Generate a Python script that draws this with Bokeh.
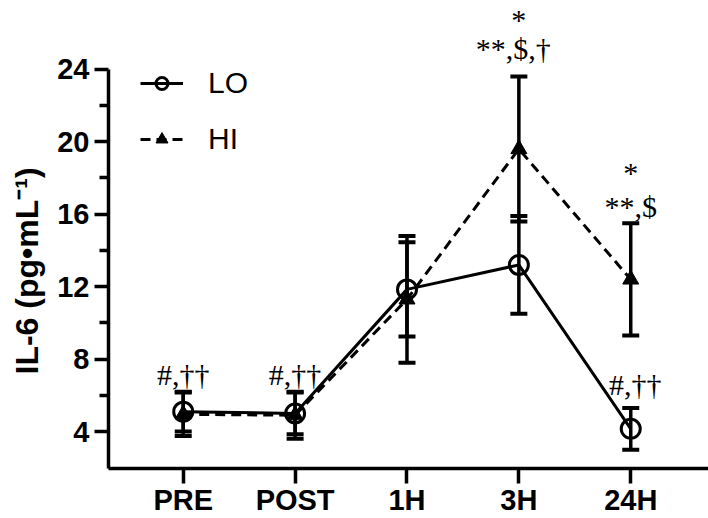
from bokeh.plotting import figure
from bokeh.models import (ColumnDataSource, Whisker, TeeHead, FixedTicker, Range1d,
                          Legend, LegendItem, LinearAxis, Title)
from bokeh.core.properties import value
from bokeh.embed import file_html
from bokeh.resources import INLINE

# ---- data ----
timepoints = ["PRE", "POST", "1H", "3H", "24H"]
x_pos = [1, 2, 3, 4, 5]
lo_mean = [5.1, 5.0, 11.85, 13.2, 4.15]
lo_err = [1.1, 1.15, 2.6, 2.7, 1.15]
hi_mean = [4.95, 4.9, 11.3, 19.6, 12.4]
hi_err = [1.2, 1.3, 3.5, 4.0, 3.1]

y_ticks = [4, 8, 12, 16, 20, 24]
y_minor = [6, 10, 14, 18, 22]

# significance annotations (text, x, baseline y)
ann_text = ["#,††", "#,††", "#,††", "**,$,†", "*", "**,$", "*"]
ann_x = [1.0, 2.0, 5.04, 3.95, 4.0, 5.0, 5.0]
ann_y = [7.15, 7.15, 6.6, 25.15, 26.75, 16.4, 18.3]

y_title = "IL-6 (pg•mL⁻¹)"

FONT = "Liberation Sans"

lo_src = ColumnDataSource(dict(x=x_pos, y=lo_mean,
                               up=[m + e for m, e in zip(lo_mean, lo_err)],
                               lo=[m - e for m, e in zip(lo_mean, lo_err)]))
hi_src = ColumnDataSource(dict(x=x_pos, y=hi_mean,
                               up=[m + e for m, e in zip(hi_mean, hi_err)],
                               lo=[m - e for m, e in zip(hi_mean, hi_err)]))

p = figure(width=708, height=518, output_backend="svg", toolbar_location=None,
           x_range=Range1d(0.332, 5.695), y_range=Range1d(1.96, 27.8),
           x_axis_type=None, y_axis_type=None)
p.min_border_left = 106
p.min_border_right = 0
p.min_border_top = 0
p.min_border_bottom = 49
p.outline_line_color = None
p.xgrid.visible = False
p.ygrid.visible = False

# axes
yaxis = LinearAxis(ticker=FixedTicker(ticks=y_ticks, minor_ticks=y_minor),
                   bounds=(1.96, 24))
yaxis.major_label_text_font = FONT
yaxis.major_label_text_font_style = "bold"
yaxis.major_label_text_font_size = "29px"
yaxis.major_label_text_color = "black"
yaxis.major_label_standoff = 5
yaxis.axis_line_width = 3.5
yaxis.major_tick_line_width = 3.5
yaxis.minor_tick_line_width = 3.5
yaxis.major_tick_out = 14
yaxis.major_tick_in = 0
yaxis.minor_tick_out = 9
yaxis.minor_tick_in = 0
p.add_layout(yaxis, "left")

xaxis = LinearAxis(ticker=FixedTicker(ticks=x_pos, minor_ticks=[]))
xaxis.major_label_overrides = {x: t for x, t in zip(x_pos, timepoints)}
xaxis.major_label_text_font = FONT
xaxis.major_label_text_font_style = "bold"
xaxis.major_label_text_font_size = "29px"
xaxis.major_label_text_color = "black"
xaxis.major_label_standoff = 0
xaxis.axis_line_width = 3.5
xaxis.major_tick_line_width = 3.5
xaxis.major_tick_out = 15
xaxis.major_tick_in = 0
xaxis.minor_tick_out = 0
xaxis.minor_tick_in = 0
p.add_layout(xaxis, "below")

# y-axis title as a side title, starting near the bottom of the drawn axis
ytitle = Title(text=y_title, align="left", vertical_align="top", offset=94, standoff=16,
               text_font=FONT, text_font_style="bold", text_font_size="32px",
               text_color="black")
p.add_layout(ytitle, "left")

# error bars
for src in (lo_src, hi_src):
    w = Whisker(base="x", upper="up", lower="lo", source=src, dimension="height",
                line_width=3.5, line_color="black",
                upper_head=TeeHead(size=17, line_width=4, line_color="black"),
                lower_head=TeeHead(size=17, line_width=4, line_color="black"))
    p.add_layout(w)

# lines and markers
l_hi = p.line("x", "y", source=hi_src, line_width=3, line_color="black", line_dash="10 6")
l_lo = p.line("x", "y", source=lo_src, line_width=3, line_color="black")
m_hi = p.scatter("x", "y", source=hi_src, marker="triangle", size=16,
                 fill_color="black", line_color="black", line_width=1)
m_lo = p.scatter("x", "y", source=lo_src, marker="circle", size=19,
                 fill_color=None, line_color="black", line_width=3)

# annotations
ann_src = ColumnDataSource(dict(x=ann_x, y=ann_y, t=ann_text))
p.text("x", "y", text="t", source=ann_src, text_font=value("Liberation Serif"),
       text_font_size="30px", text_align="center", text_baseline="alphabetic",
       text_color="black")

legend = Legend(items=[LegendItem(label="LO", renderers=[l_lo, m_lo]),
                       LegendItem(label="HI", renderers=[l_hi, m_hi])],
                location=(32, 312))
legend.border_line_color = None
legend.background_fill_alpha = 0
legend.padding = 0
legend.margin = 0
legend.spacing = 22
legend.glyph_width = 43
legend.glyph_height = 30
legend.label_height = 30
legend.label_standoff = 25
legend.label_text_font = FONT
legend.label_text_font_size = "30px"
legend.label_text_color = "black"
p.add_layout(legend)

open("out.html", "w").write(file_html(p, INLINE))
